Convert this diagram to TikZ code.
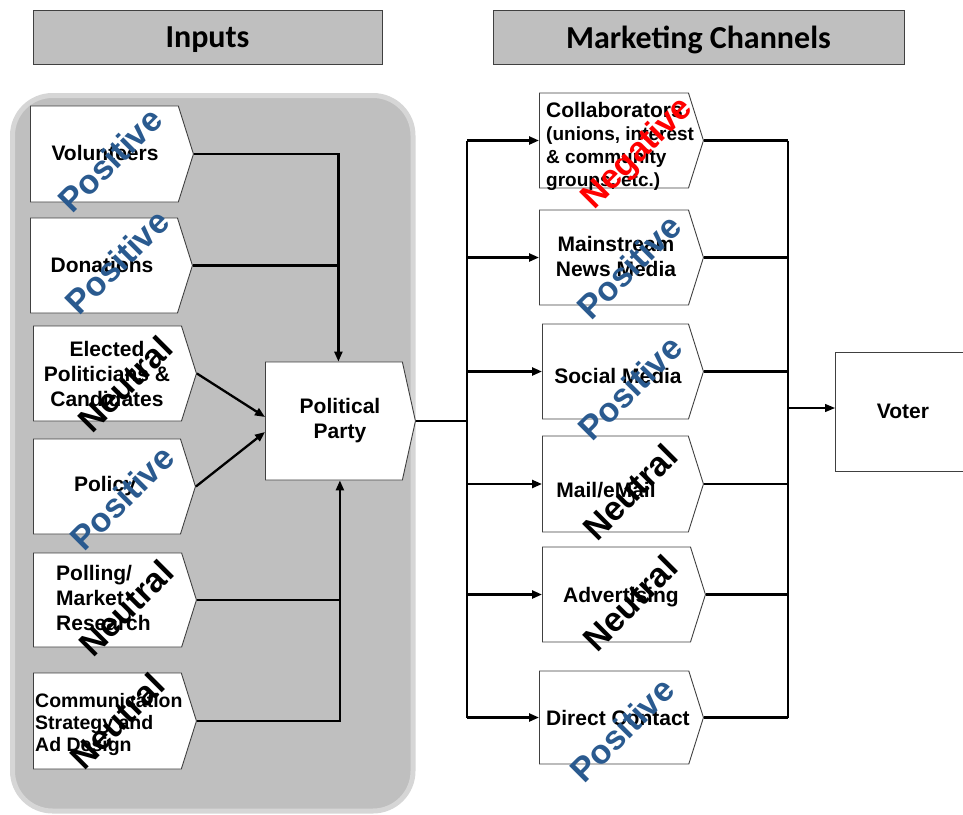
\documentclass[tikz,border=0pt]{standalone}
\usepackage{fontspec}
\setmainfont{Liberation Sans}
\newfontfamily\headfont{Carlito}
\usetikzlibrary{shapes.symbols,arrows.meta}

\definecolor{panelgray}{HTML}{BFBFBF}
\definecolor{panelrim}{HTML}{D6D6D6}
\definecolor{boxline}{HTML}{404040}
\definecolor{posblue}{HTML}{2A5A8F}
\definecolor{negred}{HTML}{FF0000}

\begin{document}
\begin{tikzpicture}[x=1pt,y=-1pt,
  chev/.style={shape=signal, signal to=east, signal pointer angle=145,
    draw=boxline, line width=0.9pt, fill=white, inner sep=0pt, anchor=west},
  plainbox/.style={rectangle, draw=boxline, line width=0.9pt, fill=white, inner sep=0pt, anchor=west},
  header/.style={rectangle, draw=boxline, line width=0.9pt, fill=panelgray, inner sep=0pt,
    text depth=0pt, font=\headfont\bfseries\fontsize{32}{34}\selectfont},
  lbl/.style={inner sep=0pt, font=\bfseries\fontsize{21}{25}\selectfont, align=center},
  tag/.style={inner sep=0pt, rotate=45, font=\bfseries\fontsize{34}{36}\selectfont},
  tagpos/.style={tag, text=posblue},
  tagneu/.style={tag, text=black},
  tagneg/.style={tag, text=negred},
  conn/.style={line width=2.3pt, black},
  arr/.style={conn, -{Triangle[length=10pt,width=8pt]}}]

\useasboundingbox (0,0) rectangle (963,814);

% column headers
\node[header, minimum width=349pt, minimum height=54pt] (hin) at (207.5,37) {Inputs};
\node[header, minimum width=411pt, minimum height=54pt] (hmc) at (698.5,37) {Marketing Channels};

% grey panel holding the inputs
\draw[panelrim, line width=5pt, fill=panelgray, rounded corners=40pt]
  (12.5,95.5) rectangle (413,811);

% input boxes
\node[chev, minimum width=163pt, minimum height=96pt] (vol)  at (30,154) {};
\node[chev, minimum width=162pt, minimum height=95pt] (don)  at (30,265.5) {};
\node[chev, minimum width=163pt, minimum height=95pt] (ele)  at (33,373.5) {};
\node[chev, minimum width=162pt, minimum height=95pt] (pol)  at (33,486.5) {};
\node[chev, minimum width=163pt, minimum height=94pt] (poll) at (33,600) {};
\node[chev, minimum width=163pt, minimum height=96pt] (comm) at (33,721) {};

% the party
\node[chev, signal pointer angle=155, minimum width=150pt, minimum height=118pt] (party) at (265,421) {};

% channel boxes
\node[chev, minimum width=164pt, minimum height=95pt] (col)  at (539,140.5) {};
\node[chev, minimum width=164pt, minimum height=95pt] (msm)  at (539,257.5) {};
\node[chev, minimum width=161pt, minimum height=95pt] (soc)  at (542,371.5) {};
\node[chev, minimum width=161pt, minimum height=96pt] (mail) at (542,484) {};
\node[chev, minimum width=163pt, minimum height=95pt] (adv)  at (542,594.5) {};
\node[chev, minimum width=164pt, minimum height=93pt] (dir)  at (539,717.5) {};

% voter
\node[plainbox, minimum width=140pt, minimum height=119pt] (voter) at (835,411.5) {};

% box texts
\node[lbl] (volT) at (105,153) {Volunteers};
\node[lbl] (donT) at (102,265) {Donations};
\node[lbl] (eleT) at (107,374) {Elected\\Politicians \&\\Candidates};
\node[lbl] (polT) at (105,486) {Policy};
\node[lbl, anchor=west, align=left] (pollT) at (56,598) {Polling/\\Market\\Research};
\node[lbl, anchor=west, align=left, font=\bfseries\fontsize{19.5}{22}\selectfont] (commT) at (35,724)
  {Communication\\Strategy and\\Ad Design};
\node[lbl] (partyT) at (340,421) {Political\\Party};
\node[lbl, anchor=west, align=left, font=\bfseries\fontsize{19}{23}\selectfont] (colT) at (546,146.5)
  {{\fontsize{21}{23}\selectfont Collaborators}\\(unions, interest\\\& community\\groups, etc.)};
\node[lbl] (msmT) at (616,256) {Mainstream\\News Media};
\node[lbl] (socT) at (618,376) {Social Media};
\node[lbl] (mailT) at (606,490) {Mail/eMail};
\node[lbl] (advT) at (621,597) {Advertising};
\node[lbl] (dirT) at (618,718) {Direct Contact};
\node[lbl] (voterT) at (903,411) {Voter};

% inputs into the party
\coordinate (ptop) at ([xshift=4.5pt]party.north);
\coordinate (pbot) at ([xshift=6pt]party.south);
\draw[arr] (vol.east) -| (ptop);
\draw[conn] (don.east) -- (don.east -| ptop);
\draw[arr] (ele.east) -- ([yshift=4pt]party.west);
\draw[arr] (pol.east) -- ([yshift=-11pt]party.west);
\draw[arr] (comm.east) -| (pbot);
\draw[conn] (poll.east) -- (poll.east -| pbot);

% party out to the channels
\coordinate (busL) at (467,418);
\draw[conn] (party.east) -- (party.east -| busL);
\draw[conn] (busL |- col.west) -- (busL |- dir.west);
\foreach \c in {col,msm,soc,mail,adv,dir}
  \draw[arr] (busL |- \c.west) -- (\c.west);

% channels to the voter
\coordinate (busR) at (788,408);
\draw[conn] (busR |- col.east) -- (busR |- dir.east);
\foreach \c in {col,msm,soc,mail,adv,dir}
  \draw[conn] (\c.east) -- (busR |- \c.east);
\draw[arr, line width=1.3pt] (busR) -- ([yshift=3.5pt]voter.west);

% ratings laid across the boxes
\node[tagpos] (t1)  at (110,160) {Positive};
\node[tagpos] (t2)  at (117,262) {Positive};
\node[tagneu] (t3)  at (125,384) {Neutral};
\node[tagpos] (t4)  at (122,498) {Positive};
\node[tagneu] (t5)  at (126,608) {Neutral};
\node[tagneu] (t6)  at (117,721) {Neutral};
\node[tagneg] (t7)  at (638,154) {Negative};
\node[tagpos] (t8)  at (629,267) {Positive};
\node[tagpos] (t9)  at (630,388) {Positive};
\node[tagneu] (t10) at (630,492) {Neutral};
\node[tagneu] (t11) at (630,603) {Neutral};
\node[tagpos] (t12) at (622,730) {Positive};
\end{tikzpicture}
\end{document}
